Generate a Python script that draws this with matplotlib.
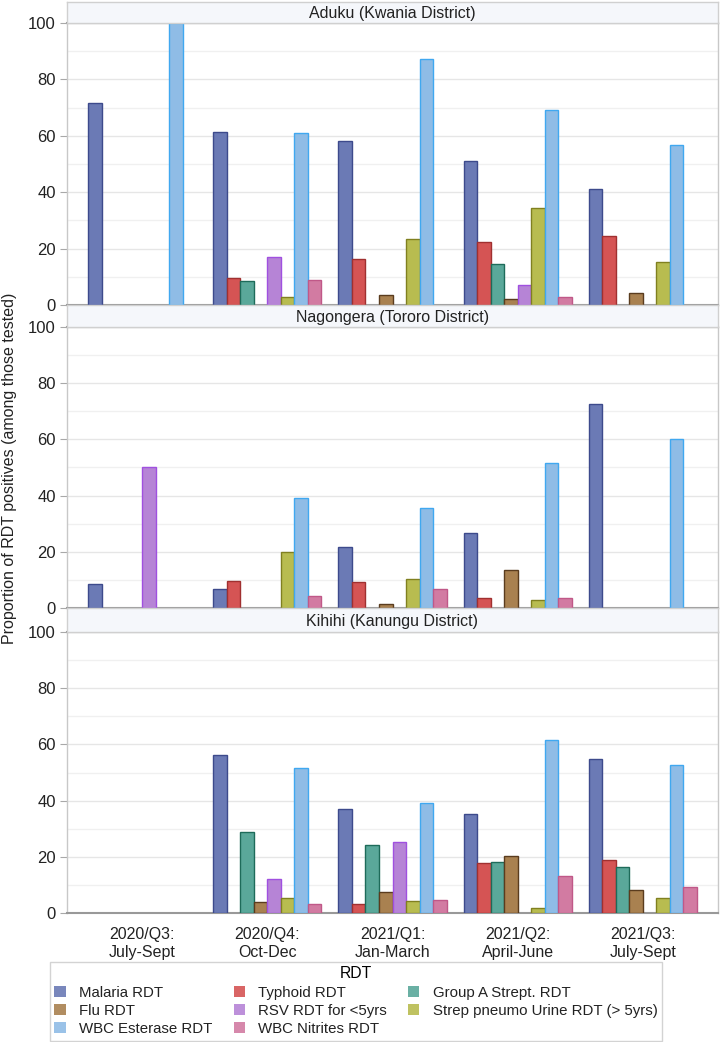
import numpy as np
import matplotlib
matplotlib.use("Agg")
import matplotlib.pyplot as plt
from matplotlib.patches import Patch

plt.rcParams['font.family'] = ['Liberation Sans', 'DejaVu Sans']

quarters = ["2020/Q3:\nJuly-Sept", "2020/Q4:\nOct-Dec", "2021/Q1:\nJan-March",
            "2021/Q2:\nApril-June", "2021/Q3:\nJuly-Sept"]
rdts = ["Malaria RDT", "Typhoid RDT", "Group A Strept. RDT", "Flu RDT",
        "RSV RDT for <5yrs", "Strep pneumo Urine RDT (> 5yrs)",
        "WBC Esterase RDT", "WBC Nitrites RDT"]
sites = ["Aduku (Kwania District)", "Nagongera (Tororo District)", "Kihihi (Kanungu District)"]

# values[site][rdt] across the 5 quarters (0 = no bar)
aduku = {
    "Malaria RDT":                     [71.5, 61.5, 58.0, 51.0, 41.2],
    "Typhoid RDT":                     [0, 9.7, 16.4, 22.5, 24.3],
    "Group A Strept. RDT":             [0, 8.6, 0, 14.6, 0],
    "Flu RDT":                         [0, 0, 3.7, 2.0, 4.3],
    "RSV RDT for <5yrs":               [0, 17.0, 0, 7.1, 0],
    "Strep pneumo Urine RDT (> 5yrs)": [0, 2.7, 23.3, 34.3, 15.2],
    "WBC Esterase RDT":                [100.0, 60.9, 87.2, 69.3, 56.7],
    "WBC Nitrites RDT":                [0, 9.0, 0, 2.8, 0],
}
nagongera = {
    "Malaria RDT":                     [8.4, 6.9, 21.8, 26.7, 72.7],
    "Typhoid RDT":                     [0, 9.7, 9.4, 3.7, 0],
    "Group A Strept. RDT":             [0, 0, 0, 0, 0],
    "Flu RDT":                         [0, 0, 1.5, 13.4, 0],
    "RSV RDT for <5yrs":               [50.0, 0, 0, 0, 0],
    "Strep pneumo Urine RDT (> 5yrs)": [0, 20.0, 10.3, 2.7, 0],
    "WBC Esterase RDT":                [0, 39.1, 35.5, 51.6, 60.0],
    "WBC Nitrites RDT":                [0, 4.2, 6.7, 3.6, 0],
}
kihihi = {
    "Malaria RDT":                     [0, 56.2, 37.0, 35.4, 54.8],
    "Typhoid RDT":                     [0, 0, 3.1, 17.7, 19.0],
    "Group A Strept. RDT":             [0, 28.8, 24.3, 18.0, 16.2],
    "Flu RDT":                         [0, 3.9, 7.3, 20.4, 8.2],
    "RSV RDT for <5yrs":               [0, 12.0, 25.2, 0, 0],
    "Strep pneumo Urine RDT (> 5yrs)": [0, 5.3, 4.1, 1.8, 5.2],
    "WBC Esterase RDT":                [0, 51.7, 39.3, 61.7, 52.6],
    "WBC Nitrites RDT":                [0, 3.2, 4.6, 13.0, 9.3],
}
site_data = [aduku, nagongera, kihihi]

fills = ["#6B7AB5", "#D55454", "#5AA89A", "#A98150", "#B684D6", "#B8BC50", "#8FBCE6", "#D27BA2"]
edges = ["#3D4A8C", "#A03030", "#1E6B5A", "#5A3C1E", "#A050E0", "#808020", "#40A8F0", "#C05888"]

W, H = 722, 1042
fig = plt.figure(figsize=(W / 100, H / 100), dpi=100)

def fx(px):
    return px / W

def fy(py):
    return 1 - py / H

left, right = 67, 718
panels = [((2, 23), (23, 305)), ((305, 327), (327, 608)), ((608, 632), (632, 913))]
FS = 11.5
LFS = 10.8
bw = 0.108
xg = np.arange(len(quarters))
axcol = "#A8A8A8"

for k, ((h0, h1), (p0, p1)) in enumerate(panels):
    ax = fig.add_axes([fx(left), fy(p1), fx(right) - fx(left), fy(p0) - fy(p1)])
    data = site_data[k]
    for i, r in enumerate(rdts):
        vals = np.array(data[r], dtype=float)
        m = vals > 0
        ax.bar(xg[m] + (i - 3.5) * bw, vals[m], width=bw, color=fills[i],
               edgecolor=edges[i], linewidth=1.0, zorder=3)
    ax.set_xlim(-0.6, 4.6)
    ax.set_ylim(0, 100)
    ax.set_yticks(np.arange(0, 101, 20))
    ax.set_yticks(np.arange(10, 100, 20), minor=True)
    ax.grid(axis='y', which='major', color="#E6E6E6", linewidth=1.0, zorder=0)
    ax.grid(axis='y', which='minor', color="#F0F0F0", linewidth=1.0, zorder=0)
    ax.tick_params(axis='y', which='major', labelsize=FS + 0.5, length=5, color=axcol,
                   pad=3, labelcolor="#222222")
    ax.tick_params(axis='y', which='minor', length=0)
    for s in ['left', 'right', 'top']:
        ax.spines[s].set_color("#C8C8C8")
        ax.spines[s].set_linewidth(1.0)
    ax.spines['bottom'].set_color("#999999")
    ax.spines['bottom'].set_linewidth(1.5)
    ax.spines['top'].set_color("#999999")
    ax.spines['top'].set_linewidth(1.5)
    if k == 2:
        ax.set_xticks(xg)
        ax.set_xticklabels(quarters, fontsize=FS, color="#222222", linespacing=1.3)
        ax.tick_params(axis='x', length=0, pad=10)
    else:
        ax.set_xticks([])

    hax = fig.add_axes([fx(left), fy(h1), fx(right) - fx(left), fy(h0) - fy(h1)])
    hax.set_facecolor("#F5F7FB")
    hax.set_xticks([])
    hax.set_yticks([])
    for s in hax.spines.values():
        s.set_color("#D0D0D0")
        s.set_linewidth(1.0)
    hax.text(0.5, 0.45, sites[k], ha='center', va='center', fontsize=FS,
             color="#222222", transform=hax.transAxes)

fig.text(fx(10), fy(468), "Proportion of RDT positives (among those tested)",
         rotation=90, ha='center', va='center', fontsize=FS, color="#222222")

order = [0, 3, 6, 1, 4, 7, 2, 5]
handles = [Patch(facecolor=fills[i], edgecolor='none', alpha=0.9) for i in order]
labels = [rdts[i] for i in order]
leg = fig.legend(handles, labels, title="RDT", ncol=3, loc='upper center',
                 bbox_to_anchor=(fx(356), fy(962)), fontsize=LFS, title_fontsize=LFS + 0.5,
                 frameon=True, fancybox=False, edgecolor="#C8C8C8",
                 handlelength=0.75, handleheight=0.75, handletextpad=0.9,
                 columnspacing=1.4, labelspacing=0.28, borderpad=0.3,
                 borderaxespad=0)
leg.get_frame().set_linewidth(1.0)
for t in leg.get_texts():
    t.set_color("#222222")

fig.savefig("out.png", dpi=100)
